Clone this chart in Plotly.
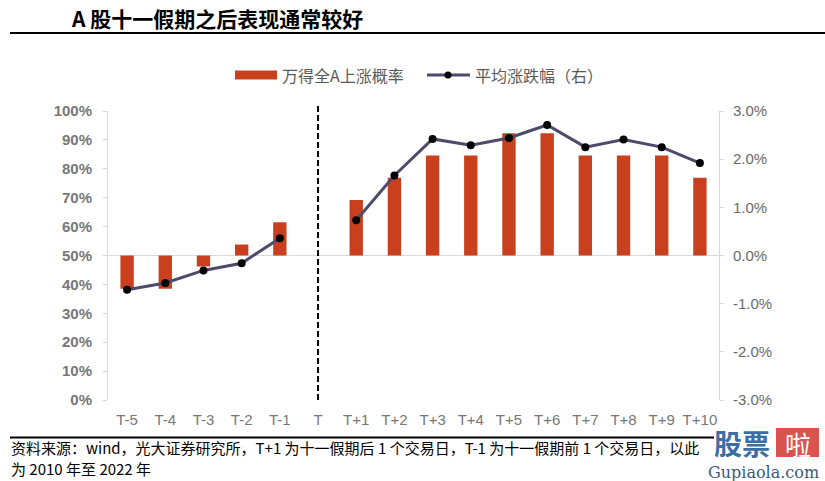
import plotly.graph_objects as go

categories = ["T-5", "T-4", "T-3", "T-2", "T-1", "T",
              "T+1", "T+2", "T+3", "T+4", "T+5", "T+6", "T+7", "T+8", "T+9", "T+10"]
# 万得全A上涨概率 (%), bars drawn from the 50% baseline
up_prob = [38.5, 38.5, 46.2, 53.8, 61.5, None,
           69.2, 76.9, 84.6, 84.6, 92.3, 92.3, 84.6, 84.6, 84.6, 76.9]
# 平均涨跌幅 (%), right axis
avg_chg = [-0.71, -0.57, -0.31, -0.16, 0.36, None,
           0.73, 1.66, 2.42, 2.29, 2.44, 2.71, 2.25, 2.41, 2.25, 1.92]
left_ticks = list(range(0, 101, 10))
left_labels = [f"{v}%" for v in left_ticks]
right_ticks = [-3, -2, -1, 0, 1, 2, 3]
right_labels = [f"{v:.1f}%" for v in right_ticks]

BASE = 50
BAR_COLOR = "#C8401E"
LINE_COLOR = "#4D4B6B"
GRAY = "#777777"
AXIS_GRAY = "#D9D9D9"
CJK = "Noto Sans CJK SC"
LAT = "Liberation Sans, Arial, Noto Sans CJK SC"

W, H = 825, 481
L, R, T, B = 108, 106, 111, 81
PW, PH = W - L - R, H - T - B


def px(x):
    return (x - L) / PW


def py(y):
    return (H - B - y) / PH


fig = go.Figure()
fig.add_trace(go.Bar(
    x=categories,
    y=[None if v is None else v - BASE for v in up_prob],
    base=BASE,
    marker=dict(color=BAR_COLOR, line=dict(width=0)),
    width=0.35,
    name="万得全A上涨概率",
    yaxis="y",
))
fig.add_trace(go.Scatter(
    x=categories,
    y=avg_chg,
    mode="lines+markers",
    line=dict(color=LINE_COLOR, width=3),
    marker=dict(color="#000000", size=8),
    connectgaps=False,
    name="平均涨跌幅（右）",
    yaxis="y2",
))

fig.update_layout(
    width=W, height=H,
    margin=dict(l=L, r=R, t=T, b=B),
    paper_bgcolor="white", plot_bgcolor="white",
    showlegend=False,
    barmode="overlay",
    xaxis=dict(
        type="category", categoryorder="array", categoryarray=categories,
        range=[-0.5, len(categories) - 0.5],
        showgrid=False, showline=False, zeroline=False, ticks="",
        tickfont=dict(family=LAT, size=15, color=GRAY),
        ticklabelstandoff=9,
    ),
    xaxis2=dict(
        overlaying="x", anchor="free", position=0.5,
        range=[-0.5, len(categories) - 0.5],
        tickvals=[i - 0.5 for i in range(len(categories) + 1)],
        ticks="outside", ticklen=4, tickcolor=AXIS_GRAY,
        showticklabels=False, showgrid=False, showline=False, zeroline=False,
    ),
    yaxis=dict(
        range=[0, 100], tickvals=left_ticks, ticktext=left_labels,
        showgrid=False, zeroline=False,
        showline=True, linecolor=AXIS_GRAY, linewidth=1,
        ticks="outside", ticklen=4, tickcolor=AXIS_GRAY,
        tickfont=dict(family=LAT, size=15, color=GRAY, weight="bold"),
        ticklabelstandoff=8,
    ),
    yaxis2=dict(
        overlaying="y", side="right",
        range=[-3, 3], tickvals=right_ticks, ticktext=right_labels,
        showgrid=False,
        zeroline=True, zerolinecolor=AXIS_GRAY, zerolinewidth=1,
        showline=True, linecolor=AXIS_GRAY, linewidth=1,
        ticks="outside", ticklen=4, tickcolor=AXIS_GRAY,
        tickfont=dict(family=LAT, size=15, color="#6A6A6A"),
        ticklabelstandoff=6,
    ),
)

# dashed separator at T
fig.add_shape(type="line", xref="x", yref="paper",
              x0=categories.index("T"), x1=categories.index("T"),
              y0=0, y1=py(103),
              line=dict(color="#000000", width=2, dash="6px,3px"))

# title and rules
fig.add_annotation(xref="paper", yref="paper", x=px(69), y=py(17.5),
                   xanchor="left", yanchor="middle", showarrow=False,
                   text="<b>A 股十一假期之后表现通常较好</b>",
                   font=dict(family=CJK, size=21, color="#000000"))
fig.add_shape(type="line", xref="paper", yref="paper",
              x0=px(10), x1=px(825), y0=py(33), y1=py(33),
              line=dict(color="#000000", width=2))
fig.add_shape(type="line", xref="paper", yref="paper",
              x0=px(10), x1=px(714), y0=py(437.5), y1=py(437.5),
              line=dict(color="#000000", width=2))

# legend
fig.add_shape(type="rect", xref="paper", yref="paper",
              x0=px(235), x1=px(277), y0=py(79.5), y1=py(70.5),
              fillcolor=BAR_COLOR, line=dict(width=0))
fig.add_annotation(xref="paper", yref="paper", x=px(280), y=py(75),
                   xanchor="left", yanchor="middle", showarrow=False,
                   text="万得全A上涨概率",
                   font=dict(family=CJK, size=16, color="#595959"))
fig.add_shape(type="line", xref="paper", yref="paper",
              x0=px(427), x1=px(470), y0=py(75), y1=py(75),
              line=dict(color=LINE_COLOR, width=3))
fig.add_shape(type="circle", xref="paper", yref="paper",
              x0=px(444.5), x1=px(451.5), y0=py(78.5), y1=py(71.5),
              fillcolor="#000000", line=dict(width=0))
fig.add_annotation(xref="paper", yref="paper", x=px(473), y=py(75),
                   xanchor="left", yanchor="middle", showarrow=False,
                   text="平均涨跌幅（右）",
                   font=dict(family=CJK, size=16, color="#595959"))

# source
fig.add_annotation(xref="paper", yref="paper", x=px(9), y=py(447),
                   xanchor="left", yanchor="middle", showarrow=False,
                   text="资料来源：wind，光大证券研究所，T+1 为十一假期后 1 个交易日，T-1 为十一假期前 1 个交易日，以此",
                   font=dict(family=CJK, size=15, color="#000000"))
fig.add_annotation(xref="paper", yref="paper", x=px(9), y=py(469),
                   xanchor="left", yanchor="middle", showarrow=False,
                   text="为 2010 年至 2022 年",
                   font=dict(family=CJK, size=15, color="#000000"))

# watermark
fig.add_annotation(xref="paper", yref="paper", x=px(712), y=py(443),
                   xanchor="left", yanchor="middle", showarrow=False,
                   text="<b>股票</b>",
                   font=dict(family=CJK, size=28, color="#3A6EA5"))
fig.add_shape(type="rect", xref="paper", yref="paper",
              x0=px(776), x1=px(819), y0=py(457), y1=py(428),
              fillcolor="#D9534F", line=dict(width=0))
fig.add_annotation(xref="paper", yref="paper", x=px(797.5), y=py(443),
                   xanchor="center", yanchor="middle", showarrow=False,
                   text="啦",
                   font=dict(family=CJK, size=26, color="#FFFFFF"))
fig.add_annotation(xref="paper", yref="paper", x=px(763), y=py(472),
                   xanchor="center", yanchor="middle", showarrow=False,
                   text="Gupiaola.com",
                   font=dict(family="DejaVu Serif, Liberation Serif", size=16, color="#3A5A7A"))

fig.write_html(
    "out.html",
    config={"displayModeBar": False},
    post_script="document.body.style.margin='0';document.body.style.overflow='hidden';",
)
